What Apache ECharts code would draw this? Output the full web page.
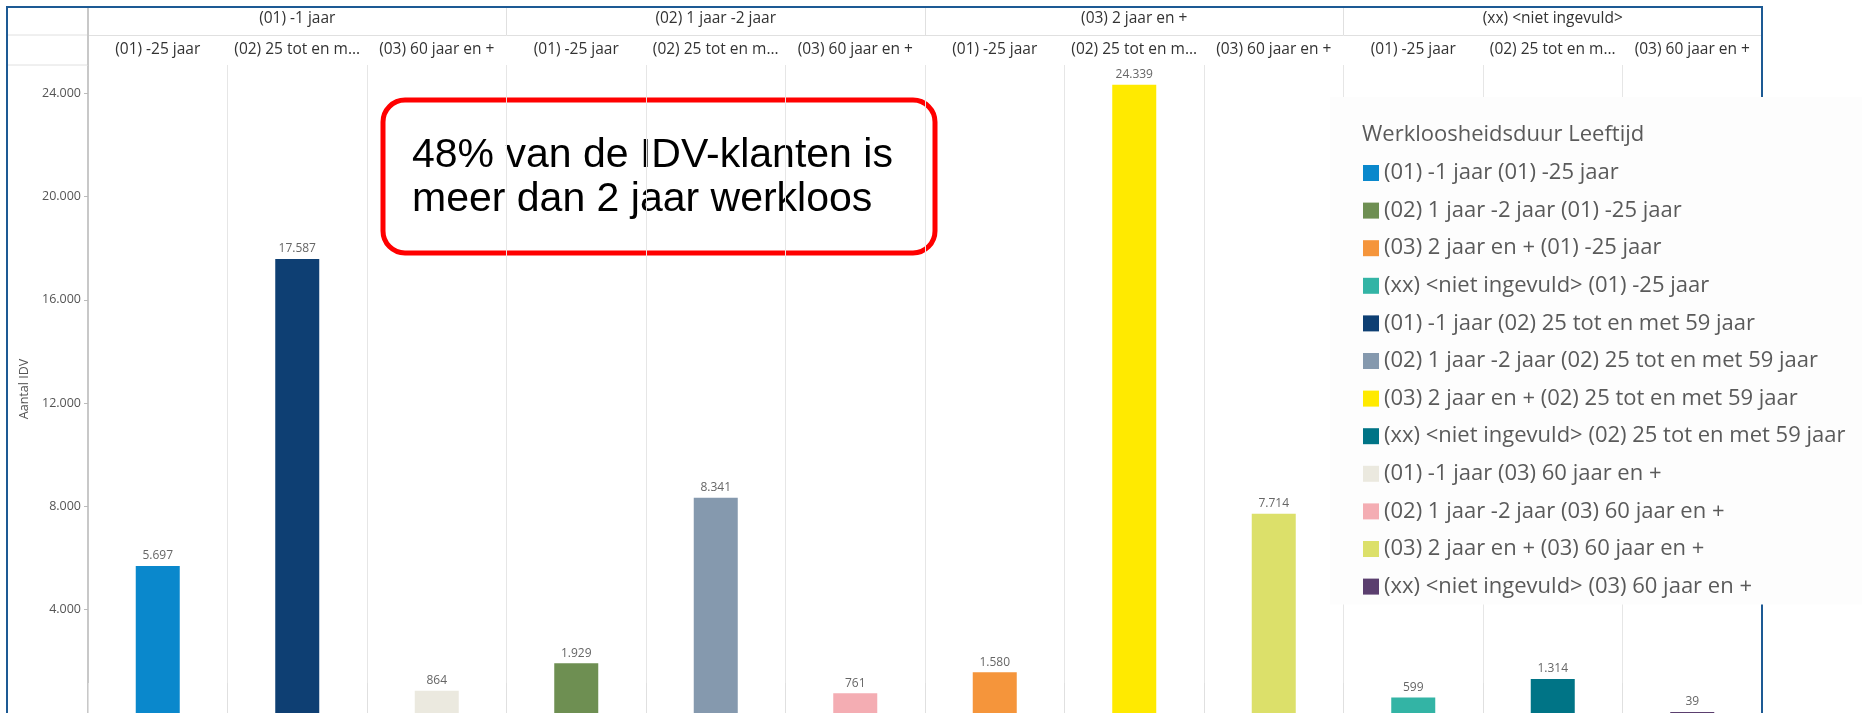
<!DOCTYPE html>
<html><head><meta charset="utf-8">
<script src="https://cdn.jsdelivr.net/npm/echarts@6/dist/echarts.min.js"></script>
<style>html,body{margin:0;padding:0;background:#fff}#c{width:1862px;height:713px}</style>
</head><body><div id="c"></div><script>
// ---- data ----
const groups = ['(01) -1 jaar', '(02) 1 jaar -2 jaar', '(03) 2 jaar en +', '(xx) <niet ingevuld>'];
const ages = ['(01) -25 jaar', '(02) 25 tot en met 59 jaar', '(03) 60 jaar en +'];
const ageTickLabels = ['(01) -25 jaar', '(02) 25 tot en m...', '(03) 60 jaar en +'];
// values per age class, ordered by groups
const age01 = [5697, 1929, 1580, 599];
const age02 = [17587, 8341, 24339, 1314];
const age03 = [864, 761, 7714, 39];
const colorsAge01 = ['#0a88cc', '#6e8f52', '#f5953b', '#33b4a5'];
const colorsAge02 = ['#0e3f73', '#8599ae', '#ffea00', '#007486'];
const colorsAge03 = ['#ebe9df', '#f4adb3', '#dce06a', '#5b3f6f'];
const yMin = 0, yMax = 25100, yInterval = 4000;
const yName = 'Aantal IDV';
const legendTitle = 'Werkloosheidsduur Leeftijd';
const noteLines = ['48% van de IDV-klanten is', 'meer dan 2 jaar werkloos'];

// ---- build ----
const fmt = v => String(v).replace(/\B(?=(\d{3})+(?!\d))/g, '.');
const categories = [];
groups.forEach(() => ageTickLabels.forEach(l => categories.push(l)));
const valuesByAge = [age01, age02, age03];
const colorsByAge = [colorsAge01, colorsAge02, colorsAge03];
const series = [];
ages.forEach((age, a) => groups.forEach((g, gi) => {
  const data = categories.map(() => '-');
  data[gi * 3 + a] = valuesByAge[a][gi];
  series.push({
    type: 'bar', name: g + ' ' + age, data, barWidth: 44, barGap: '-100%',
    xAxisIndex: 0, yAxisIndex: 0,
    itemStyle: { color: colorsByAge[a][gi] },
    label: { show: true, position: 'top', distance: 4, fontSize: 12, color: '#666',
      fontFamily: 'Open Sans', formatter: p => fmt(p.value) }
  });
}));

const chart = echarts.init(document.getElementById('c'), null, { renderer: 'canvas' });
const lineCol = '#e0e0e0';
const gridTop = 65, gridLeft = 88;
chart.setOption({
  animation: false,
  textStyle: { fontFamily: 'Open Sans' },
  grid: { left: gridLeft, top: gridTop, width: 1674, height: 649, containLabel: false },
  title: { text: legendTitle, left: 1362, top: 124, padding: 0, z: 10,
    textStyle: { fontSize: 22, fontWeight: 'normal', color: '#5a5a5a', fontFamily: 'Open Sans' } },
  legend: {
    orient: 'vertical', left: 1330, top: 97, padding: [64, 60, 6, 33],
    backgroundColor: '#fdfdfd', icon: 'rect', itemWidth: 16, itemHeight: 16,
    itemGap: 13.6, itemTextGap: 16,
    textStyle: { fontSize: 22, color: '#5a5a5a', lineHeight: 24, fontFamily: 'Open Sans' },
    data: series.map(s => s.name)
  },
  xAxis: [
    { type: 'category', position: 'top', data: categories, gridIndex: 0,
      axisLine: { show: true, lineStyle: { color: lineCol } },
      axisTick: { show: true, length: 30, interval: 0, lineStyle: { color: lineCol } },
      axisLabel: { interval: 0, margin: 7, fontSize: 15.5, color: '#333' },
      splitLine: { show: true, interval: 0, lineStyle: { color: '#e6e6e6' } } },
    { type: 'category', position: 'top', offset: 30, data: groups, gridIndex: 0,
      axisLine: { show: true, lineStyle: { color: lineCol } },
      axisTick: { show: true, length: 28, interval: 0, lineStyle: { color: lineCol } },
      axisLabel: { interval: 0, margin: 8, fontSize: 15.5, color: '#333' },
      splitLine: { show: false } }
  ],
  yAxis: {
    type: 'value', min: yMin, max: yMax, interval: yInterval,
    name: yName, nameLocation: 'middle', nameGap: 56,
    nameTextStyle: { fontSize: 12.5, color: '#555' },
    axisLine: { show: true, lineStyle: { color: '#c8c8c8', width: 2 } },
    axisTick: { show: true, length: 4, lineStyle: { color: '#bbb' } },
    axisLabel: { fontSize: 12.5, color: '#555', margin: 7, showMaxLabel: false, showMinLabel: false, formatter: v => fmt(v) },
    splitLine: { show: false }
  },
  graphic: [
    { type: 'line', z: 1, silent: true, shape: { x1: 7, y1: gridTop - 30, x2: gridLeft, y2: gridTop - 30 }, style: { stroke: lineCol, lineWidth: 1 } },
    { type: 'line', z: 1, silent: true, shape: { x1: 7, y1: gridTop, x2: gridLeft, y2: gridTop }, style: { stroke: lineCol, lineWidth: 1 } },
    { type: 'line', z: 1, silent: true, shape: { x1: gridLeft, y1: 7, x2: gridLeft, y2: gridTop }, style: { stroke: '#c8c8c8', lineWidth: 2 } },
    { type: 'rect', z: 1, silent: true, shape: { x: 7, y: 7, width: 1755, height: 730 },
      style: { fill: 'none', stroke: '#1d5a94', lineWidth: 2 } },
    { type: 'group', z: 50, children: [
      { type: 'rect', shape: { x: 383, y: 100, width: 552, height: 153, r: 22 },
        style: { fill: '#fff', stroke: '#ff0000', lineWidth: 5 } },
      { type: 'text', x: 412, y: 156, style: { text: noteLines[0], font: '41px "Liberation Sans", Arial, sans-serif', fill: '#000', textVerticalAlign: 'middle' } },
      { type: 'text', x: 412, y: 200, style: { text: noteLines[1], font: '41px "Liberation Sans", Arial, sans-serif', fill: '#000', textVerticalAlign: 'middle' } }
    ] }
  ],
  series
});
</script></body></html>
